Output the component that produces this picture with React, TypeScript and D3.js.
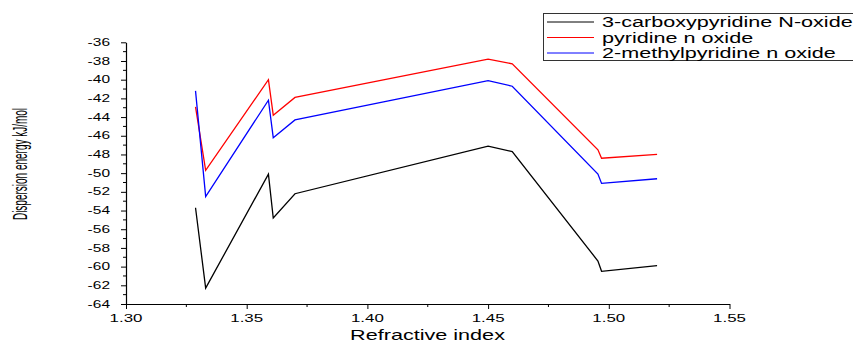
import React, { useEffect, useRef } from "react";
import * as d3 from "d3";

const width = 853;
const height = 343;

const refractiveIndex = [1.3288, 1.333, 1.359, 1.361, 1.37, 1.45, 1.46, 1.4955, 1.497, 1.52];
const carboxyValues = [-53.7, -62.3, -50.1, -54.8, -52.2, -47.1, -47.7, -59.4, -60.5, -59.9];
const pyridineValues = [-42.9, -49.7, -40.0, -43.8, -41.9, -37.8, -38.3, -47.5, -48.4, -48.0];
const methylValues = [-41.2, -52.5, -42.2, -46.2, -44.3, -40.1, -40.7, -50.1, -51.1, -50.6];

const seriesNames = ["3-carboxypyridine N-oxide", "pyridine n oxide", "2-methylpyridine n oxide"];
const seriesColors = ["#000000", "#ff0000", "#0000ff"];

const xTicks = [1.3, 1.35, 1.4, 1.45, 1.5, 1.55];
const yTicks = [-36, -38, -40, -42, -44, -46, -48, -50, -52, -54, -56, -58, -60, -62, -64];

export default function App() {
  const svgRef = useRef<SVGSVGElement>(null);

  useEffect(() => {
    const svg = d3.select(svgRef.current);
    svg.selectAll("*").remove();
    const font = "'Liberation Sans', Arial, sans-serif";
    // the original picture is stretched sideways, so the text is too
    const stretch = 1.47;

    const x = d3.scaleLinear().domain([1.3, 1.55]).range([126, 729.5]);
    const y = d3.scaleLinear().domain([-64, -36]).range([304, 42.3]);

    // minor ticks
    const xMinor = d3.range(1.325, 1.55, 0.05);
    svg
      .append("g")
      .selectAll("line")
      .data(xMinor)
      .join("line")
      .attr("x1", (d) => x(d))
      .attr("x2", (d) => x(d))
      .attr("y1", y(-64))
      .attr("y2", y(-64) + 3)
      .attr("stroke", "#000");

    const yMinor = d3.range(-63, -36, 2);
    svg
      .append("g")
      .selectAll("line")
      .data(yMinor)
      .join("line")
      .attr("x1", x(1.3) - 3)
      .attr("x2", x(1.3))
      .attr("y1", (d) => y(d))
      .attr("y2", (d) => y(d))
      .attr("stroke", "#000");

    const xAxis = svg
      .append("g")
      .attr("transform", `translate(0,${y(-64)})`)
      .call(d3.axisBottom(x).tickValues(xTicks).tickFormat(() => "").tickSize(5).tickSizeOuter(0));

    const yAxis = svg
      .append("g")
      .attr("transform", `translate(${x(1.3)},0)`)
      .call(d3.axisLeft(y).tickValues(yTicks).tickFormat(() => "").tickSize(5).tickSizeOuter(0));
    svg.selectAll(".domain").attr("stroke", "#000").attr("stroke-width", 1.2);
    xAxis.selectAll("text").remove();
    yAxis.selectAll("text").remove();

    // tick labels
    svg
      .append("g")
      .selectAll("text")
      .data(xTicks)
      .join("text")
      .attr("transform", (d) => `translate(${x(d)},321.5) scale(${stretch},1)`)
      .attr("text-anchor", "middle")
      .attr("font-family", font)
      .attr("font-size", 11.5)
      .text((d) => d3.format(".2f")(d));

    svg
      .append("g")
      .selectAll("text")
      .data(yTicks)
      .join("text")
      .attr("transform", (d) => `translate(110,${y(d)}) scale(1.55,1)`)
      .attr("text-anchor", "end")
      .attr("dy", "0.36em")
      .attr("font-family", font)
      .attr("font-size", 10)
      .text((d) => d);

    const line = d3
      .line<number>()
      .x((d, i) => x(refractiveIndex[i]))
      .y((d) => y(d));

    [carboxyValues, pyridineValues, methylValues].forEach((vals, i) => {
      svg
        .append("path")
        .attr("d", line(vals))
        .attr("fill", "none")
        .attr("stroke", seriesColors[i])
        .attr("stroke-width", 1.3);
    });

    // axis titles
    svg
      .append("text")
      .attr("transform", `translate(427.5,340) scale(${stretch},1)`)
      .attr("text-anchor", "middle")
      .attr("font-family", font)
      .attr("font-size", 14.7)
      .text("Refractive index");

    svg
      .append("text")
      .attr("transform", "translate(27,164) rotate(-90) scale(0.5,1)")
      .attr("text-anchor", "middle")
      .attr("font-family", font)
      .attr("font-size", 20)
      .text("Dispersion energy kJ/mol");

    // legend
    const legend = svg.append("g");
    legend
      .append("rect")
      .attr("x", 543.5)
      .attr("y", 13.5)
      .attr("width", 320)
      .attr("height", 47)
      .attr("fill", "#fff")
      .attr("stroke", "#333")
      .attr("stroke-width", 1);

    seriesNames.forEach((name, i) => {
      const ly = 22 + i * 15.5;
      legend
        .append("line")
        .attr("x1", 547)
        .attr("x2", 594)
        .attr("y1", ly)
        .attr("y2", ly)
        .attr("stroke", seriesColors[i])
        .attr("stroke-width", 1);
      legend
        .append("text")
        .attr("transform", `translate(602,${ly + 5}) scale(1.49,1)`)
        .attr("font-family", font)
        .attr("font-size", 14.5)
        .text(name);
    });
  }, []);

  return (
    <svg
      ref={svgRef}
      width={width}
      height={height}
      style={{ position: "absolute", left: 0, top: 0, background: "#fff" }}
    ></svg>
  );
}
